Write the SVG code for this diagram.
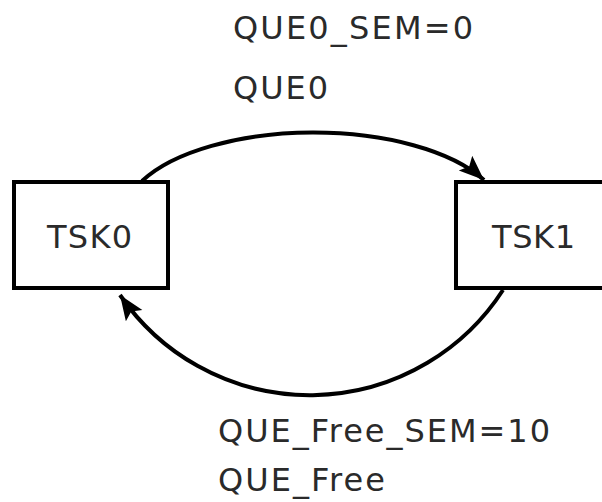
<svg xmlns="http://www.w3.org/2000/svg" width="602" height="502" viewBox="0 0 602 502">
  <style>
    .box { fill: #ffffff; stroke: #000000; stroke-width: 4; }
    .lbl { font-family: "DejaVu Sans", Verdana, sans-serif; font-size: 32px; fill: #2a2a2a; }
    .edge { fill: none; stroke: #000000; stroke-width: 4; }
  </style>
  <defs>
    <marker id="arrow" markerUnits="userSpaceOnUse" markerWidth="28" markerHeight="24" refX="25" refY="10" orient="auto">
      <path d="M0,0 L25,10 L0,20 L5,10 z" fill="#000000"/>
    </marker>
  </defs>
  <rect width="602" height="502" fill="#ffffff"/>
  <g id="TSK0">
    <rect class="box" x="14" y="182" width="154" height="106"/>
    <text class="lbl" x="47" y="248" textLength="85" lengthAdjust="spacing">TSK0</text>
  </g>
  <g id="TSK1">
    <rect class="box" x="456" y="182" width="160" height="106"/>
    <text class="lbl" x="492" y="248" textLength="83" lengthAdjust="spacing">TSK1</text>
  </g>
  <g id="connectors">
    <path class="edge" d="M142,181 A190,85 0 0,1 484,180" marker-end="url(#arrow)"/>
    <path class="edge" d="M503,290 A230,230 0 0,1 120,295" marker-end="url(#arrow)"/>
  </g>
  <g id="labels">
    <text class="lbl" x="233" y="39" textLength="240" lengthAdjust="spacing">QUE0_SEM=0</text>
    <text class="lbl" x="233" y="99" textLength="95" lengthAdjust="spacing">QUE0</text>
    <text class="lbl" x="218" y="442" textLength="332" lengthAdjust="spacing">QUE_Free_SEM=10</text>
    <text class="lbl" x="218" y="491" textLength="167" lengthAdjust="spacing">QUE_Free</text>
  </g>
</svg>
